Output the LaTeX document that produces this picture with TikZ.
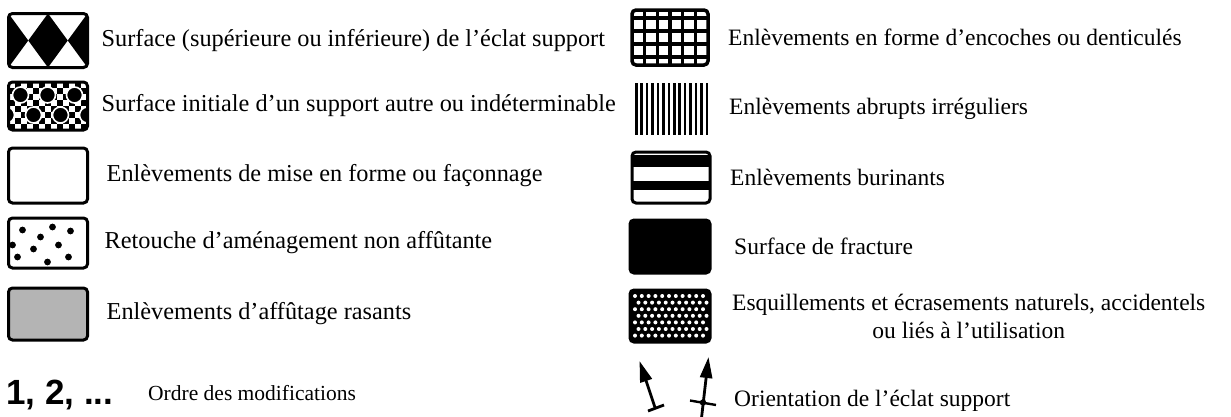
\documentclass[tikz,border=0pt]{standalone}
\usepackage{fontspec}
\setmainfont{Liberation Serif}
\newfontfamily\numfont{Liberation Sans}
\usetikzlibrary{arrows.meta, positioning, backgrounds}
\definecolor{rasant}{RGB}{180,180,180}
\tikzset{
  swatch/.style ={rectangle, draw=black, line width=3pt, rounded corners=4pt,
    minimum width=79pt, minimum height=52pt, inner sep=0pt, outer sep=0pt},
  hatchbox/.style={rectangle, minimum width=73pt, minimum height=52pt,
    inner sep=0pt, outer sep=0pt},
  legtext/.style={anchor=west, inner sep=0pt,
    font=\fontsize{23.5}{28}\selectfont},
  lefttext/.style={legtext, font=\fontsize{24.3}{29}\selectfont},
  orient/.style ={line width=2.8pt, -{Triangle[length=21pt, width=12pt]}},
}

\begin{document}
\begin{tikzpicture}[x=1pt, y=-1pt]
  \useasboundingbox (0,0) rectangle (1231,416);

  % left column
  \node[swatch, minimum height=54pt] (relief)   at (48,40.5) {};
  \node[swatch, minimum height=48pt] (initiale) at (48,106)  {};
  \node[swatch, minimum height=55pt] (faconn)   at (48,175.5){};
  \node[swatch, minimum height=50pt] (retouche) at (48,243)  {};
  \node[swatch, fill=rasant]         (rasant)   at (48,314)  {};

  \node[lefttext, right=14pt of relief]   (trelief)   {Surface (supérieure ou inférieure) de l’éclat support};
  \node[lefttext, right=14pt of initiale] (tinitiale) {Surface initiale d’un support autre ou indéterminable};
  \node[lefttext, right=19pt of faconn]   (tfaconn)   {Enlèvements de mise en forme ou façonnage};
  \node[lefttext, right=17pt of retouche] (tretouche) {Retouche d’aménagement non affûtante};
  \node[lefttext, right=19pt of rasant]   (trasant)   {Enlèvements d’affûtage rasants};

  \node[anchor=west, inner sep=0pt, font=\numfont\bfseries\fontsize{35}{38}\selectfont]
       (ordre) at (6,395) {1, 2, ...};
  \node[anchor=west, inner sep=0pt, font=\fontsize{21.5}{26}\selectfont]
       (tordre) at (148,393) {Ordre des modifications};

  % right column
  \node[swatch, line width=3.5pt, minimum width=76pt, minimum height=55pt] (encoche) at (670,37.5) {};
  \node[hatchbox]                                        (abrupt)  at (671.5,109) {};
  \node[swatch, minimum width=78pt, minimum height=51pt] (burin)   at (671,177.5) {};
  \node[swatch, fill=black, minimum width=80pt, minimum height=53pt] (fracture) at (670,246.5) {};
  \node[swatch, fill=black, minimum width=80pt]          (esquille) at (670,316) {};

  \node[legtext, right=20pt of encoche]  (tencoche)  {Enlèvements en forme d’encoches ou denticulés};
  \node[legtext, right=21pt of abrupt]   (tabrupt)   {Enlèvements abrupts irréguliers};
  \node[legtext, right=20pt of burin]    (tburin)    {Enlèvements burinants};
  \node[legtext, right=24pt of fracture] (tfracture) {Surface de fracture};
  \node[legtext, right=22pt of esquille, align=center] (tesquille)
       {Esquillements et écrasements naturels, accidentels\\ou liés à l’utilisation};
  \node[legtext] (torient) at (734,401) {Orientation de l’éclat support};

  % orientation arrows
  \coordinate (tailA) at (655,407.5);
  \coordinate (tipA)  at (639.5,361);
  \coordinate (barA1) at (648,411);
  \coordinate (barA2) at (664,405);
  \coordinate (tailB) at (701.5,418);
  \coordinate (tipB)  at (708.5,357);
  \coordinate (barB1) at (690,400.5);
  \coordinate (barB2) at (716,405);
  \draw[orient] (tailA) -- (tipA);
  \draw[line width=2.8pt] (barA1) -- (barA2);
  \draw[orient] (tailB) -- (tipB);
  \draw[line width=2.4pt] (barB1) -- (barB2);
  \fill (703,402.5) circle (3.2pt);

  \begin{scope}[on background layer]
    % diamonds
    \begin{scope}
      \clip[rounded corners=4pt] (relief.north west) rectangle (relief.south east);
      \foreach \dx in {0,39.5,79}
        \fill ([xshift=\dx pt]relief.west) +(-19.75,0) -- +(0,-27) -- +(19.75,0) -- +(0,27) -- cycle;
    \end{scope}
    % checker and rings
    \begin{scope}
      \clip[rounded corners=4pt] (initiale.north west) rectangle (initiale.south east);
      \fill (initiale.north west) rectangle (initiale.south east);
      \foreach \i in {0,2,...,12}
        \foreach \j in {0,2,...,8} {
          \fill[white] ([shift={(\i*6,\j*6)}]initiale.north west) rectangle +(6,6);
          \fill[white] ([shift={(\i*6+6,\j*6+6)}]initiale.north west) rectangle +(6,6);
        }
      \foreach \cx/\cy in {12/13,39/13,66/13,-2/33,25/33,52/33,79/33}
        \filldraw[fill=black, draw=white, line width=1.6pt]
          ([shift={(\cx,\cy)}]initiale.north west) circle (8pt);
    \end{scope}
    % scattered dots
    \foreach \cx/\cy in {14/12,44/9,62/13,32/19,4/27,50/27,25/31,9/39,39/44,60/39}
      \fill ([shift={(\cx,\cy)}]retouche.north west) circle (3.4pt);
    % grid
    \foreach \k in {1,...,5}
      \draw[line width=3.2pt] ([xshift=\k*12.67pt]encoche.north west) -- ([xshift=\k*12.67pt]encoche.south west);
    \foreach \dy in {8,21,34,47}
      \draw[line width=3.2pt] ([yshift=-\dy pt]encoche.north west) -- ([yshift=-\dy pt]encoche.north east);
    % vertical hatching
    \foreach \k in {0,...,13}
      \draw[line width=2.6pt] ([xshift=1.3pt+\k*5.43pt]abrupt.north west) -- ([xshift=1.3pt+\k*5.43pt]abrupt.south west);
    % burin bands
    \fill ([yshift=-3pt]burin.north west) rectangle ([yshift=-15pt]burin.north east);
    \fill ([yshift=-29pt]burin.north west) rectangle ([yshift=-38pt]burin.north east);
  \end{scope}

  % white dots on black
  \foreach \r in {0,...,6} {
    \pgfmathsetmacro{\off}{mod(\r,2)*3.5}
    \foreach \c in {0,...,10}
      \fill[white] ([shift={(5+\off+\c*6.8,6+\r*6.6)}]esquille.north west) circle (2pt);
  }
\end{tikzpicture}
\end{document}
